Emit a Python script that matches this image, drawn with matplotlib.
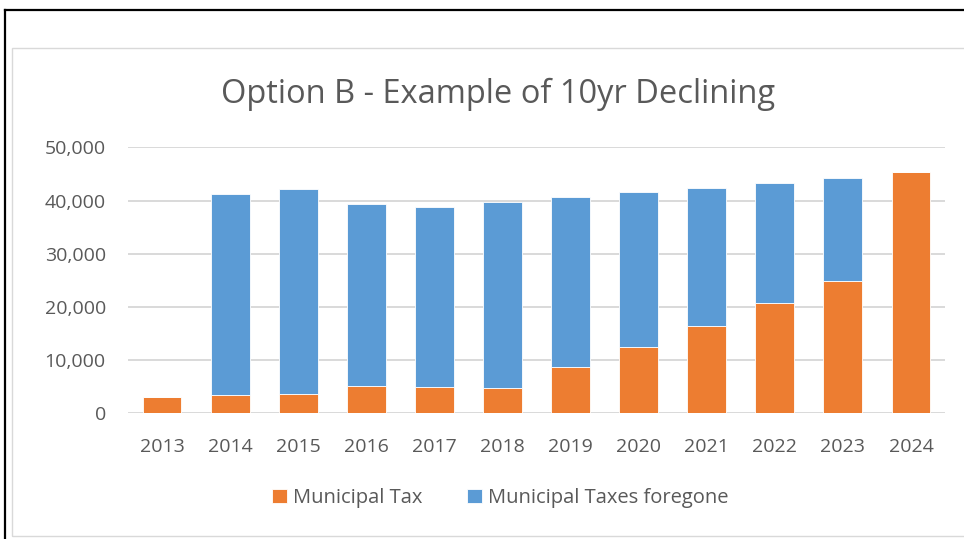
import matplotlib
matplotlib.use("Agg")
import matplotlib.pyplot as plt
from matplotlib.patches import Rectangle
from matplotlib.ticker import FuncFormatter

# data
years = ["2013", "2014", "2015", "2016", "2017", "2018",
         "2019", "2020", "2021", "2022", "2023", "2024"]
municipal_tax = [3100, 3400, 3550, 5050, 4950, 4800,
                 8700, 12500, 16500, 20650, 24900, 45450]
taxes_foregone = [0, 37850, 38650, 34350, 33900, 34900,
                  32050, 29050, 25900, 22700, 19250, 0]

plt.rcParams['font.family'] = ['Open Sans', 'DejaVu Sans']

fig = plt.figure(figsize=(9.64, 5.39), dpi=100)

# outer black frame (top + left) and gray chart border
W, H = 964, 539
fig.add_artist(plt.Line2D([5 / W, 1], [1 - 10 / H, 1 - 10 / H], color="black", lw=1.6))
fig.add_artist(plt.Line2D([5 / W, 5 / W], [0, 1 - 10 / H], color="black", lw=1.6))
fig.add_artist(Rectangle((12 / W, 3 / H), 1.0, 1 - 51 / H, transform=fig.transFigure,
                         fill=False, edgecolor="#d9d9d9", lw=1.0))

ax = fig.add_axes([128 / W, 1 - 413.3 / H, 817 / W, 266 / H])

x = range(len(years))
orange = "#ED7D31"
blue = "#5B9BD5"
ax.bar(x, municipal_tax, width=0.57, color=orange, edgecolor="white", linewidth=0.6,
       label="Municipal Tax", zorder=3)
ax.bar(x, taxes_foregone, width=0.57, bottom=municipal_tax, color=blue,
       edgecolor="white", linewidth=0.6, label="Municipal Taxes foregone", zorder=3)

ax.set_xlim(-0.5, 11.5)
ax.set_ylim(0, 50000)
ax.set_yticks(range(0, 50001, 10000))
ax.yaxis.set_major_formatter(FuncFormatter(lambda v, p: f"{int(v):,}"))
ax.set_xticks(list(x))
ax.set_xticklabels(years)
ax.grid(axis="y", color="#d9d9d9", lw=1.4, zorder=0)
for s in ax.spines.values():
    s.set_visible(False)
ax.tick_params(length=0, labelsize=14, colors="#595959", pad=18)
ax.tick_params(axis="y", pad=16)

fig.text(498 / W, 1 - 94 / H, "Option B - Example of 10yr Declining",
         ha="center", va="center", fontsize=23.5, color="#595959")

leg = fig.legend(loc="center", bbox_to_anchor=(500 / W, 1 - 498 / H), ncol=2,
                 frameon=False, fontsize=14.5, handlelength=0.75, handleheight=0.75,
                 handletextpad=0.3, columnspacing=2.2)
for t in leg.get_texts():
    t.set_color("#595959")

fig.savefig("out.png", dpi=100)
